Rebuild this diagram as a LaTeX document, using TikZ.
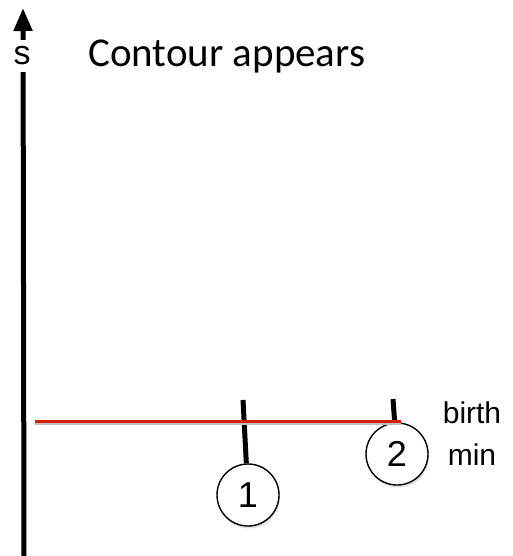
\documentclass[tikz,border=0pt]{standalone}
\usepackage{fontspec}
\setmainfont{Liberation Sans}
\newfontfamily\headfont{Carlito}
\usetikzlibrary{arrows.meta,shadows}
\definecolor{levelred}{RGB}{214,32,12}
\tikzset{
  axisline/.style={line width=5pt, black},
  stick/.style={line width=5pt, black},
  level/.style={line width=3.4pt, levelred,
    preaction={draw, black!25, line width=3.2pt, transform canvas={yshift=-1.6pt}}},
  extremum/.style={circle, draw, line width=1.4pt, fill=white, minimum size=62pt,
    inner sep=0pt, font=\fontsize{36}{40}\selectfont,
    drop shadow={opacity=0.25, shadow xshift=1pt, shadow yshift=-2.5pt}},
  sidelabel/.style={anchor=base, inner sep=0pt, font=\fontsize{30}{36}\selectfont},
}
\begin{document}
\begin{tikzpicture}[x=1pt, y=-1pt]
  \useasboundingbox (0,0) rectangle (513,556);

  % vertical s axis
  \coordinate (axbot) at (24,560);
  \coordinate (axtop) at (23,8);
  \draw[axisline, -{Triangle[length=23pt, width=18pt]}] (axbot) -- (axtop);
  \node[fill=white, inner sep=0pt, minimum height=32pt, minimum width=18pt] (sbox) at (23,56) {};
  \node[anchor=base, inner sep=0pt, font=\fontsize{34}{40}\selectfont] (s) at (22,65) {s};

  % title
  \node[anchor=base west, inner sep=0pt, font=\headfont\fontsize{41}{48}\selectfont] (title) at (88,67) {Contour appears};

  % extrema with their sticks
  \node[extremum] (c1) at (248,495) {1};
  \node[extremum] (c2) at (397,454) {2};
  \coordinate (t1) at (243,400);
  \coordinate (t2) at (393,399);
  \draw[stick] (t1) -- (c1);
  \draw[stick] (t2) -- (c2);

  % contour level line
  \coordinate (lvl) at (35,421.5);
  \coordinate (lvr) at (401,421.5);
  \draw[level] (lvl) -- (lvr);

  % labels
  \node[sidelabel] (birth) at (472,423) {birth};
  \node[sidelabel] (min) at (472,465) {min};
\end{tikzpicture}
\end{document}
